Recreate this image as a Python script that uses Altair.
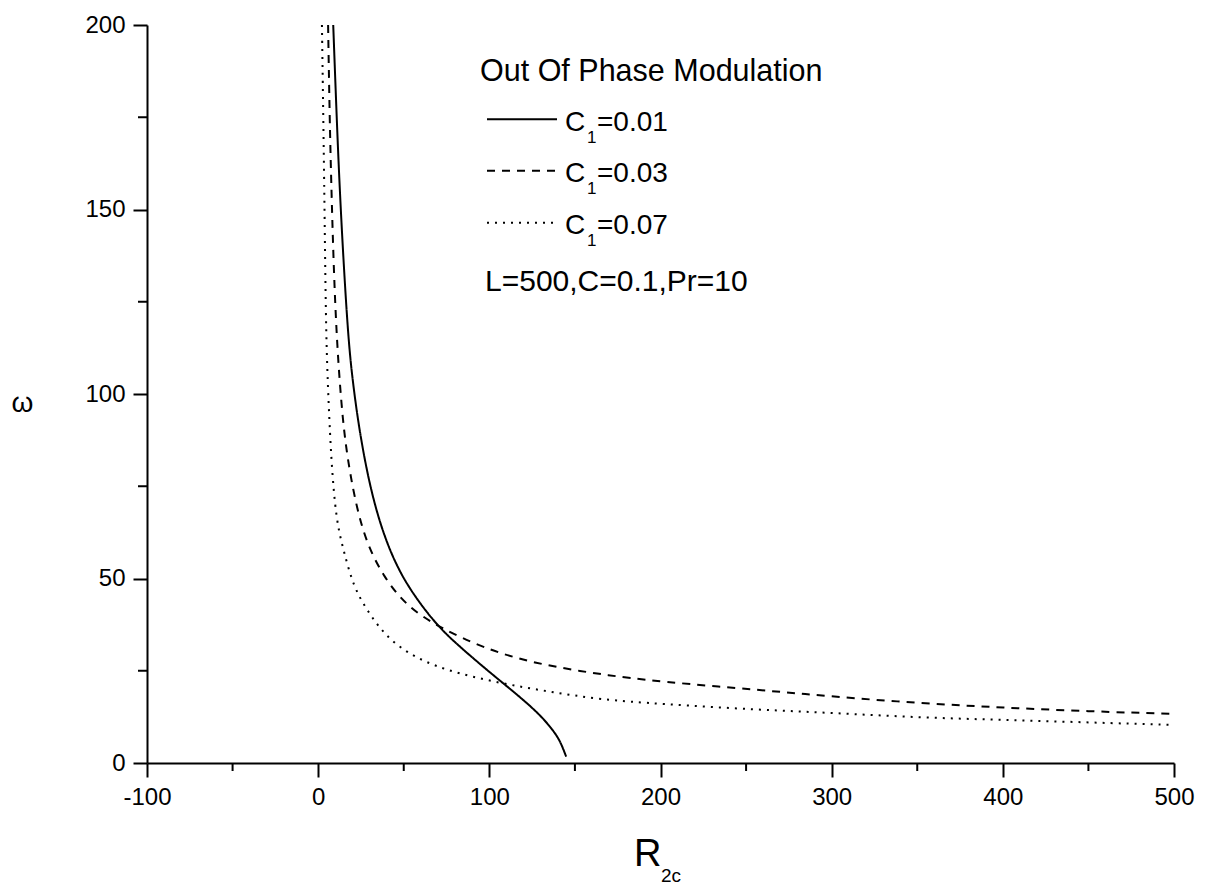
import altair as alt
import pandas as pd

# ---- data ----
series_names = ["C1=0.01", "C1=0.03", "C1=0.07"]

r_c001 = [8.8, 10.4, 12.3, 14.9, 17.9, 20.6, 23.5, 28.0, 33.5, 40.5, 49.0, 59.0, 70.3, 82.0, 96.6, 106.0, 116.0, 124.0, 131.0, 137.0, 141.4, 144.9]
w_c001 = [200, 180, 158, 135, 113, 102, 92, 80, 69, 59, 50.5, 43.5, 36.9, 31.8, 26.0, 22.4, 18.6, 15.4, 12.3, 9.0, 6.0, 1.7]

r_c003 = [5.8, 6.7, 7.6, 9.0, 11.0, 14.4, 18.0, 22.6, 28.4, 38.1, 51.8, 70.3, 96.6, 125.8, 164.7, 200.0, 258.0, 300.0, 351.6, 400.0, 450.0, 500.0]
w_c003 = [200, 175, 158, 135, 113, 92, 80, 69, 59.5, 50.5, 42.4, 36.9, 31.1, 27.0, 24.0, 22.0, 19.8, 18.0, 16.2, 15.0, 14.0, 13.3]

r_c007 = [2.2, 2.9, 3.5, 4.1, 4.8, 6.6, 8.0, 9.9, 12.0, 14.8, 20.6, 28.4, 38.1, 51.8, 73.2, 106.3, 135.5, 164.7, 200.0, 258.0, 300.0, 351.6, 400.0, 450.0, 500.0]
w_c007 = [200, 178, 158, 135, 112, 92, 80, 69.5, 63, 57.7, 47.8, 41.5, 35.1, 29.7, 25.2, 21.6, 19.3, 17.2, 16.0, 14.4, 13.6, 12.3, 11.7, 11.0, 10.3]

x_major = [-100, 0, 100, 200, 300, 400, 500]
x_minor = [-50, 50, 150, 250, 350, 450]
y_major = [0, 50, 100, 150, 200]
y_minor = [25, 75, 125, 175]

legend_title = "Out Of Phase Modulation"
legend_values = ["=0.01", "=0.03", "=0.07"]
params_text = "L=500,C=0.1,Pr=10"

# ---- layout / styles ----
W, H = 1027, 738
FONT = "Liberation Sans"
dashes = [[1, 0], [8, 7], [2, 6]]

rows = []
for name, rs, ws in zip(series_names, [r_c001, r_c003, r_c007], [w_c001, w_c003, w_c007]):
    for r, w in zip(rs, ws):
        rows.append({"series": name, "R": r, "w": w})
df = pd.DataFrame(rows)

xscale = alt.Scale(domain=[-100, 500], nice=False, zero=False)
yscale = alt.Scale(domain=[0, 200], nice=False, zero=False)

axis_common = dict(
    grid=False, title=None, domainColor="black", domainWidth=2,
    tickColor="black", tickWidth=2, tickSize=14,
    labelFont=FONT, labelFontSize=24, labelColor="black",
    labelFlush=False, labelOverlap=False,
    labelExpr="'' + datum.value",
)

lines = alt.Chart(df).mark_line(color="black", strokeWidth=2, interpolate="basis", clip=True).encode(
    x=alt.X("R:Q", scale=xscale, axis=alt.Axis(values=x_major, labelPadding=8, **axis_common)),
    y=alt.Y("w:Q", scale=yscale, axis=alt.Axis(values=y_major, labelPadding=8, **axis_common)),
    strokeDash=alt.StrokeDash("series:N", scale=alt.Scale(domain=series_names, range=dashes), legend=None),
    detail="series:N",
)

xminor = alt.Chart(pd.DataFrame({"v": x_minor})).mark_rule(color="black", strokeWidth=2).encode(
    x=alt.X("v:Q", scale=xscale, axis=None),
    y=alt.value(H), y2=alt.value(H + 8),
)
yminor = alt.Chart(pd.DataFrame({"v": y_minor})).mark_rule(color="black", strokeWidth=2).encode(
    y=alt.Y("v:Q", scale=yscale, axis=None),
    x=alt.value(0), x2=alt.value(-9),
)

def text_layer(txt, px, py, size, align="left"):
    return alt.Chart(pd.DataFrame({"t": [txt]})).mark_text(
        font=FONT, fontSize=size, color="black", align=align, baseline="alphabetic"
    ).encode(x=alt.value(px), y=alt.value(py), text="t:N")

layers = [lines, xminor, yminor]

# legend
layers.append(text_layer(legend_title, 333, 55.7, 30.5))
leg_line_y = [94.3, 145.7, 197.7]
for i, (val, ly) in enumerate(zip(legend_values, leg_line_y)):
    layers.append(
        alt.Chart(pd.DataFrame({"s": [series_names[i]]})).mark_rule(color="black", strokeWidth=2, strokeDash=dashes[i]).encode(
            x=alt.value(340), x2=alt.value(410), y=alt.value(ly)
        )
    )
    base = ly + 11.5
    layers.append(text_layer("C", 418, base, 28))
    layers.append(text_layer("1", 440, base + 12, 17))
    layers.append(text_layer(val, 450, base, 28))
layers.append(text_layer(params_text, 338, 265.7, 30))

# axis titles
layers.append(text_layer("ω", -124.5, 386.7, 28, align="center"))
layers.append(text_layer("R", 487, 841, 38))
layers.append(text_layer("2c", 514, 857, 19))

chart = alt.layer(*layers).resolve_axis(x="independent", y="independent").properties(
    width=W, height=H,
    autosize=alt.AutoSizeParams(type="none"),
    padding={"left": 147, "top": 25, "right": 37, "bottom": 126},
    background="white",
).configure_view(stroke=None)

chart.save("out.html", embed_options={"renderer": "svg", "actions": False})
